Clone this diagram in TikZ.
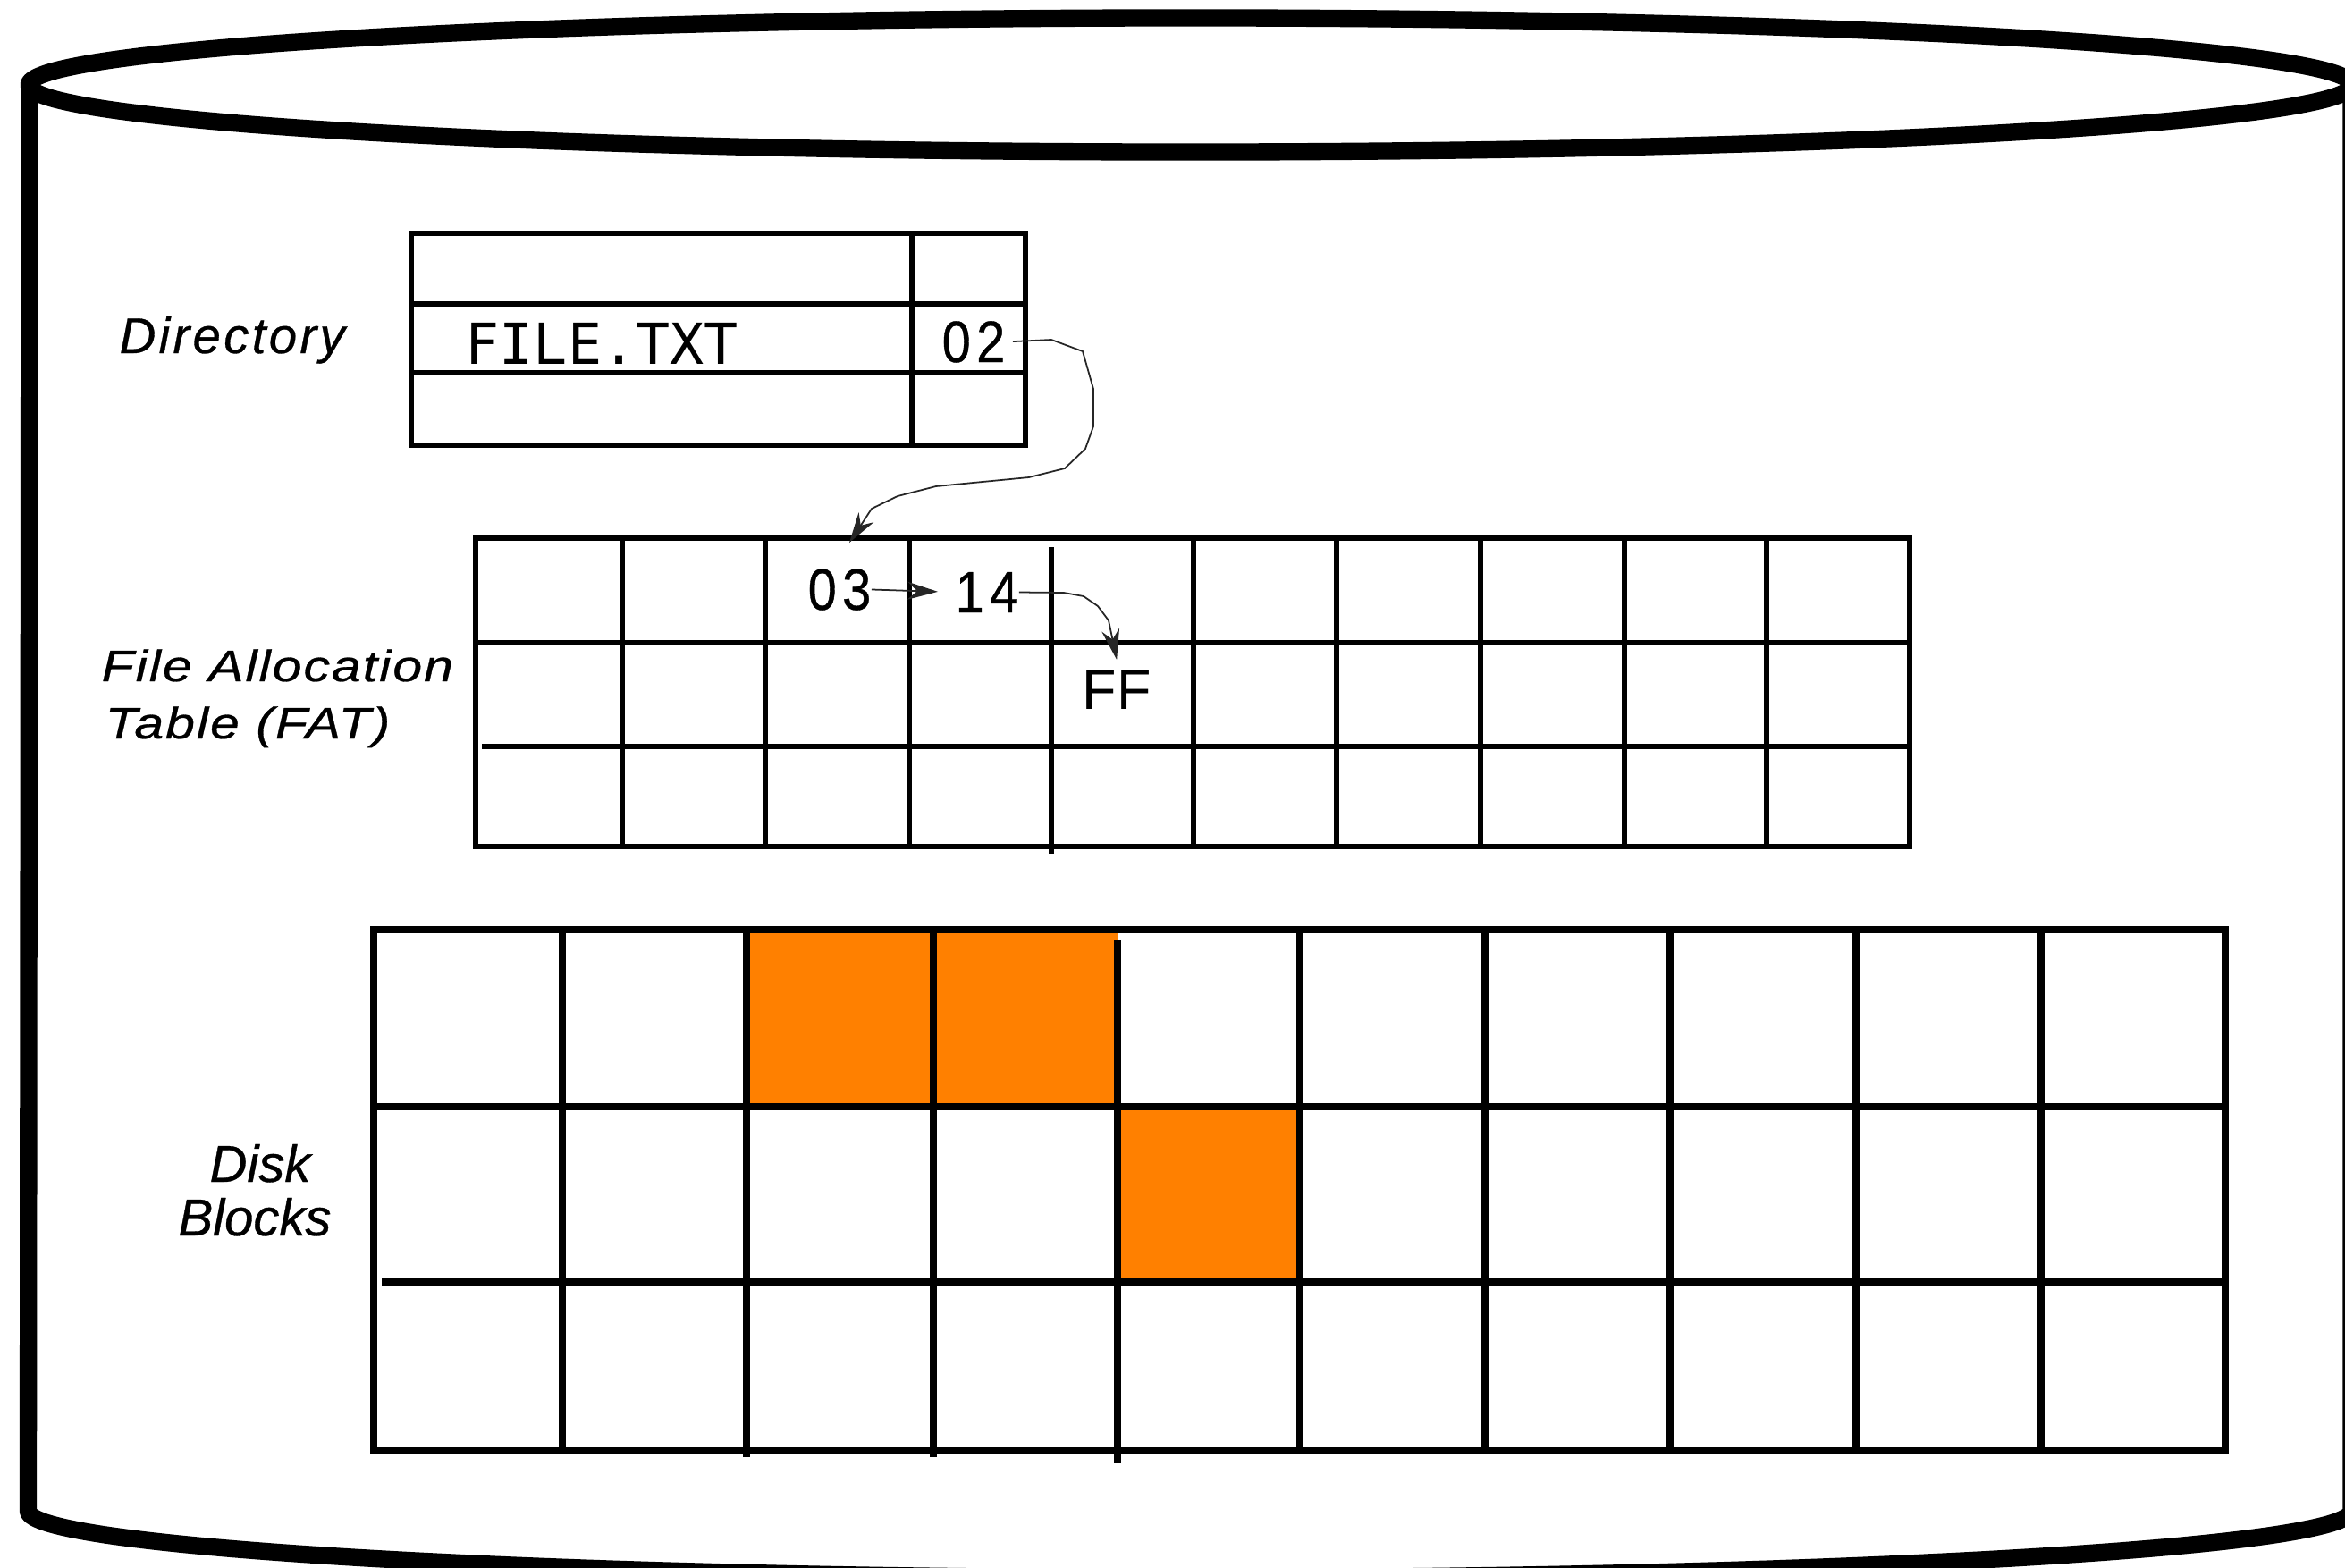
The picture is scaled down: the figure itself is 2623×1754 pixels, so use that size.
\documentclass[tikz,border=0pt]{standalone}
\usepackage{fontspec}
\setmainfont{Liberation Sans}
\newfontfamily\lblfont[LetterSpace=6,FakeBold=0.6]{Liberation Sans}
\newfontfamily\diskfont[FakeBold=0.6]{Liberation Sans}
\newfontfamily\fatfont[FakeStretch=1.2,LetterSpace=4,FakeBold=0.6]{Liberation Sans}
\newfontfamily\monofnt{DejaVu Sans Mono}
\newfontfamily\digfont[FakeStretch=0.88,LetterSpace=10,FakeBold=0.6]{Liberation Sans}
\usetikzlibrary{arrows.meta}
\definecolor{blockorange}{HTML}{FF8000}
\begin{document}
\begin{tikzpicture}[x=0.01cm,y=-0.01cm,
  cyl/.style={line width=5.5pt, line join=round},
  dirline/.style={line width=1.9pt},
  fatline/.style={line width=1.6pt},
  diskline/.style={line width=2.2pt},
  conn/.style={draw=black!85, line width=0.5pt, -{Stealth[length=3.4mm,width=2mm,inset=1.1mm]}},
  txt/.style={inner sep=0pt, anchor=base west},
  digit/.style={font=\digfont\fontsize{18.6}{22}\selectfont},
]
\useasboundingbox (0,0) rectangle (2623,1754);
\clip (0,0) rectangle (2623,1754);
\fill[white] (0,0) rectangle (2623,1754);

% cylinder
\draw[cyl] (1331.5,95) ellipse [x radius=12.985cm, y radius=0.75cm];
\draw[cyl] (2630,95) -- (2630,1690) arc[start angle=360, end angle=180, x radius=12.985cm, y radius=0.75cm] -- (33,95);

% directory table
\draw[dirline] (460,261) rectangle (1147,498);
\draw[dirline] (460,340) -- (1147,340) (460,417) -- (1147,417) (1020,261) -- (1020,498);

% FAT grid
\draw[fatline] (532,602) rectangle (2136,947);
\draw[fatline] (532,719) -- (2136,719) (539,835) -- (2136,835);
\foreach \x in {696,856,1017,1335,1495,1656,1817,1976} \draw[fatline] (\x,602) -- (\x,947);
\draw[fatline] (1176,612) -- (1176,955);

% disk blocks
\fill[blockorange] (835,1040) rectangle (1250,1238);
\fill[blockorange] (1250,1238) rectangle (1454,1434);
\draw[diskline] (418,1040) rectangle (2489,1623);
\draw[diskline] (418,1238) -- (2489,1238) (427,1434) -- (2489,1434);
\foreach \x in {629,1454,1661,1868,2076,2283} \draw[diskline] (\x,1040) -- (\x,1623);
\draw[diskline] (835,1040) -- (835,1630) (1044,1040) -- (1044,1630);
\draw[diskline] (1250,1052) -- (1250,1636);

% labels
\node[txt, font=\lblfont\itshape\fontsize{16}{19}\selectfont] (dirlbl) at (133,395) {Directory};
\node[txt, font=\fatfont\itshape\fontsize{14}{17}\selectfont] (fatlblA) at (113,762) {File Allocation};
\node[txt, font=\fatfont\itshape\fontsize{14}{17}\selectfont] (fatlblB) at (117,826) {Table (FAT)};
\node[inner sep=0pt, anchor=base, font=\diskfont\itshape\fontsize{16.5}{20}\selectfont] (diskA) at (291,1322) {Disk};
\node[inner sep=0pt, anchor=base, font=\diskfont\itshape\fontsize{16.5}{20}\selectfont] (diskB) at (285,1382) {Blocks};

% cell texts
\node[txt, font=\monofnt\fontsize{18}{22}\selectfont] (fname) at (520,407) {FILE.TXT};
\node[txt, digit] (n02) at (1053,405) {02};
\node[txt, digit] (n03) at (903,682) {03};
\node[txt, digit] (n14) at (1068,685) {14};
\node[txt, font=\fontsize{17.9}{21}\selectfont] (nFF) at (1210,793) {FF};

% connectors
\coordinate (tip03) at (950,607);
\draw[conn, shorten <=0.08cm] (n02.east) -- (1176,380) -- (1211,393) -- (1223,435) -- (1223,477)
  -- (1214,502) -- (1191,524) -- (1151,534) -- (1047,544) -- (1004,555) -- (975,569) -- (962,589) -- (tip03);
\draw[conn, shorten >=0.19cm] (n03.east) -- (n14.west);
\draw[conn] (n14.east) -- (1190,663) -- (1212,667) -- (1228,678) -- (1240,694) -- ([yshift=0.11cm]nFF.north);
\end{tikzpicture}
\end{document}
